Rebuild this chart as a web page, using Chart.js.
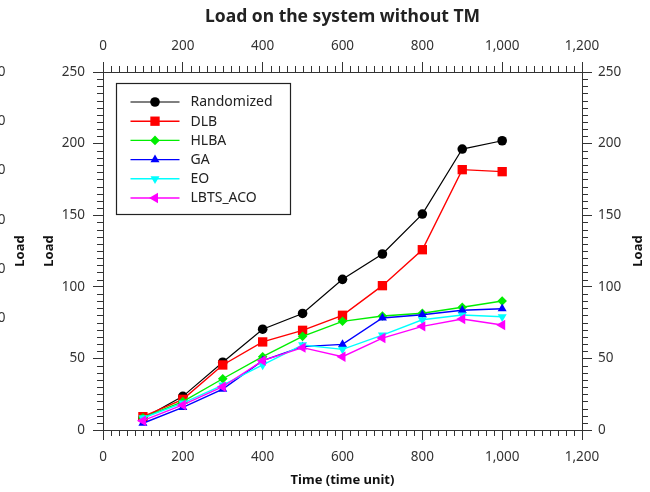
<!DOCTYPE html>
<html>
<head>
<meta charset="utf-8">
<script src="https://cdn.jsdelivr.net/npm/chart.js@4/dist/chart.umd.min.js"></script>
<style>
  html, body { margin: 0; padding: 0; background: #fff; }
  #wrap { width: 650px; height: 492px; position: relative; }
</style>
</head>
<body>
<div id="wrap"><canvas id="c" width="650" height="492"></canvas></div>
<script>
// ---- data ----
const timeValues = [100, 200, 300, 400, 500, 600, 700, 800, 900, 1000];
const randomized = [8, 23.5, 47.3, 70.4, 81.4, 105.2, 122.9, 150.8, 196.2, 202];
const dlb        = [9.3, 21.4, 45.4, 61.5, 69.6, 80.1, 100.8, 125.9, 181.8, 180.4];
const hlba       = [8.6, 19.8, 35.8, 51.2, 65.4, 75.9, 79.6, 81.5, 85.7, 90.1];
const ga         = [4.7, 15.8, 28.6, 48.4, 58.2, 59.8, 78.2, 80.5, 83.6, 84.7];
const eo         = [8.4, 18.8, 31.4, 45.4, 59.4, 56.3, 66.3, 77.0, 80.3, 79.1];
const lbtsAco    = [6.5, 17.5, 30.2, 48.4, 57.5, 51.2, 64.2, 72.4, 77.5, 73.3];
const seriesNames = ['Randomized', 'DLB', 'HLBA', 'GA', 'EO', 'LBTS_ACO'];
const xMin = 0, xMax = 1200, xStep = 200, xMinor = 20;
const yMin = 0, yMax = 250, yStep = 50, yMinor = 5;
const chartTitle = 'Load on the system without TM';
const xTitle = 'Time (time unit)';
const yTitle = 'Load';

const FONT = "'Noto Sans', 'Open Sans', sans-serif";
const AXIS = '#333333';
const TXT = '#333333';

function pts(arr) { return timeValues.map((t, i) => ({x: t, y: arr[i]})); }

const styles = [
  {color: '#000000', point: 'circle', radius: 4.8, rot: 0, width: 1.2},
  {color: '#ff0000', point: 'rect', radius: 6.6, rot: 0, width: 1.4},
  {color: '#00ee00', point: 'rectRot', radius: 4.8, rot: 0, width: 1.4},
  {color: '#0000ff', point: 'triangle', radius: 5.2, rot: 0, width: 1.4},
  {color: '#00ffff', point: 'triangle', radius: 5.2, rot: 180, width: 1.4},
  {color: '#ff00ff', point: 'triangle', radius: 6, rot: -90, width: 1.4}
];
const allSeries = [randomized, dlb, hlba, ga, eo, lbtsAco];

const datasets = allSeries.map((arr, i) => ({
  label: seriesNames[i],
  data: pts(arr),
  xAxisID: 'x',
  yAxisID: 'y',
  borderColor: styles[i].color,
  backgroundColor: styles[i].color,
  borderWidth: styles[i].width,
  pointStyle: styles[i].point,
  pointRadius: styles[i].radius,
  pointRotation: styles[i].rot,
  pointBorderWidth: 0,
  pointBackgroundColor: styles[i].color,
  pointBorderColor: styles[i].color,
  order: allSeries.length - 1 - i,
  tension: 0,
  fill: false
}));

function fixW(w) { return s => { s.width = w; }; }
function fixH(h) { return s => { s.height = h; }; }

const minorTicks = {
  id: 'minorTicks',
  afterDraw(chart) {
    const ctx = chart.ctx;
    ctx.save();
    ctx.strokeStyle = AXIS;
    ctx.lineWidth = 1;
    const len = 6;
    const xs = chart.scales.x, xt = chart.scales.x2, yl = chart.scales.y, yr = chart.scales.y2;
    ctx.beginPath();
    for (let v = xMin; v <= xMax; v += xMinor) {
      if (v % xStep === 0) continue;
      const px = Math.round(xs.getPixelForValue(v)) + 0.5;
      ctx.moveTo(px, xs.top); ctx.lineTo(px, xs.top + len);
      ctx.moveTo(px, xt.bottom); ctx.lineTo(px, xt.bottom - len);
    }
    for (let v = yMin; v <= yMax; v += yMinor) {
      if (v % yStep === 0) continue;
      const py = Math.round(yl.getPixelForValue(v)) + 0.5;
      ctx.moveTo(yl.right, py); ctx.lineTo(yl.right - len, py);
      ctx.moveTo(yr.left, py); ctx.lineTo(yr.left + len, py);
    }
    ctx.stroke();

    // right axis title (reads bottom-to-top like the left one)
    ctx.fillStyle = '#111';
    ctx.font = 'bold 13px ' + FONT;
    ctx.textAlign = 'center';
    ctx.textBaseline = 'middle';
    ctx.translate(yr.right - 12, (chart.chartArea.top + chart.chartArea.bottom) / 2);
    ctx.rotate(-Math.PI / 2);
    ctx.fillText(yTitle, 0, 0);
    ctx.restore();
  }
};

const innerLegend = {
  id: 'innerLegend',
  afterDraw(chart) {
    const ctx = chart.ctx;
    const a = chart.chartArea;
    const bx = a.left + 13.5, by = a.top + 11.5, bw = 174, bh = 131;
    ctx.save();
    ctx.fillStyle = '#fff';
    ctx.fillRect(bx, by, bw, bh);
    ctx.strokeStyle = '#222';
    ctx.lineWidth = 1.2;
    ctx.strokeRect(bx, by, bw, bh);
    chart.data.datasets.forEach((ds, i) => {
      const y = by + 18.5 + i * 19.2;
      ctx.strokeStyle = ds.borderColor;
      ctx.lineWidth = ds.borderWidth;
      ctx.beginPath();
      ctx.moveTo(bx + 14, y); ctx.lineTo(bx + 63, y);
      ctx.stroke();
      ctx.fillStyle = ds.pointBackgroundColor;
      Chart.helpers.drawPoint(ctx, {
        pointStyle: ds.pointStyle, radius: ds.pointRadius, rotation: ds.pointRotation, borderWidth: 0
      }, bx + 38.5, y);
      ctx.fillStyle = '#222';
      ctx.font = '14px ' + FONT;
      ctx.textAlign = 'left';
      ctx.textBaseline = 'middle';
      ctx.fillText(ds.label, bx + 74, y + 0.5);
    });
    ctx.restore();
  }
};

const tickFont = {family: FONT, size: 13.5};
const titleFont = {family: FONT, size: 13, weight: 'bold'};
const gridOpts = {drawOnChartArea: false, drawTicks: true, tickLength: 10, color: AXIS, tickColor: AXIS};
const borderOpts = {display: true, color: AXIS, width: 1};

new Chart(document.getElementById('c'), {
  type: 'line',
  data: {datasets},
  options: {
    responsive: false,
    animation: false,
    layout: {padding: 0},
    plugins: {
      legend: {display: false},
      tooltip: {enabled: false},
      title: {
        display: true, text: chartTitle, fullSize: false,
        font: {family: FONT, size: 17.5, weight: 'bold'}, color: '#222',
        padding: {top: 6.5, bottom: 0}
      }
    },
    scales: {
      x: {
        type: 'linear', position: 'bottom', min: xMin, max: xMax,
        ticks: {stepSize: xStep, font: tickFont, color: TXT, padding: 9, maxRotation: 0, autoSkip: false},
        grid: gridOpts, border: borderOpts,
        title: {display: true, text: xTitle, font: titleFont, color: '#111', padding: {top: 4, bottom: 4}},
        afterFit: fixH(62)
      },
      x2: {
        type: 'linear', position: 'top', min: xMin, max: xMax,
        ticks: {stepSize: xStep, font: tickFont, color: TXT, padding: 8, maxRotation: 0, autoSkip: false},
        grid: gridOpts, border: borderOpts,
        afterFit: fixH(44.5)
      },
      y: {
        type: 'linear', position: 'left', min: yMin, max: yMax,
        ticks: {stepSize: yStep, font: tickFont, color: TXT, padding: 8},
        grid: gridOpts, border: borderOpts,
        title: {display: true, text: yTitle, font: titleFont, color: '#111', padding: {top: 0, bottom: 0}},
        afterFit: fixW(62)
      },
      yGhost: {
        type: 'linear', position: 'left', min: -113.4, max: yMax,
        ticks: {stepSize: yStep, font: tickFont, color: TXT, padding: 35.5},
        afterBuildTicks: s => { s.ticks = s.ticks.filter(t => t.value >= 0 && t.value % yStep === 0); },
        grid: {display: false, drawTicks: false, drawOnChartArea: false},
        border: {display: false},
        title: {display: true, text: yTitle, font: titleFont, color: '#111', padding: {top: 12.8, bottom: 0}},
        afterFit: fixW(41)
      },
      y2: {
        type: 'linear', position: 'right', min: yMin, max: yMax,
        ticks: {stepSize: yStep, font: tickFont, color: TXT, padding: 6},
        grid: gridOpts, border: borderOpts,
        afterFit: fixW(68)
      }
    }
  },
  plugins: [minorTicks, innerLegend]
});
</script>
</body>
</html>
